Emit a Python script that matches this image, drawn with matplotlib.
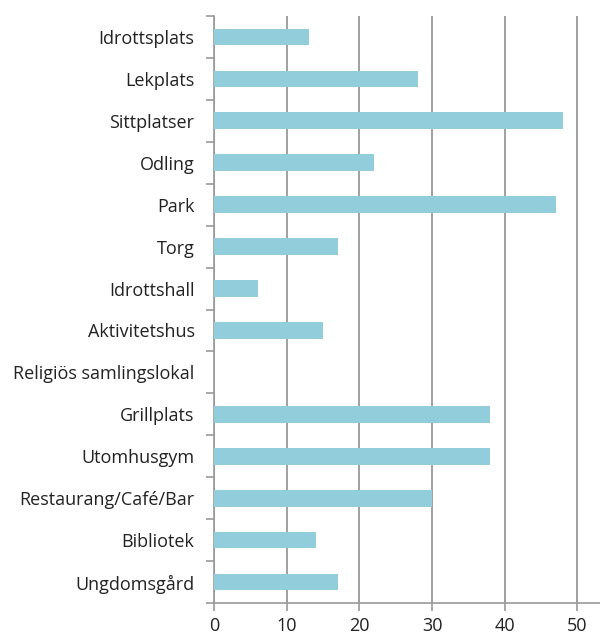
import matplotlib.pyplot as plt
import numpy as np

# data, top to bottom
categories = ["Idrottsplats", "Lekplats", "Sittplatser", "Odling", "Park", "Torg",
              "Idrottshall", "Aktivitetshus", "Religiös samlingslokal", "Grillplats",
              "Utomhusgym", "Restaurang/Café/Bar", "Bibliotek", "Ungdomsgård"]
values = [13, 28, 48, 22, 47, 17, 6, 15, 0, 38, 38, 30, 14, 17]
xticks = [0, 10, 20, 30, 40, 50]

plt.rcParams['font.family'] = ['Open Sans', 'DejaVu Sans']

fig = plt.figure(figsize=(6, 6.37), dpi=100)
ax = fig.add_axes([214 / 600, 1 - 603 / 637, 386 / 600, 587 / 637])

y = np.arange(len(categories))
ax.barh(y, values, height=0.4, color="#92CDDC", zorder=3)

ax.set_ylim(len(categories) - 0.5, -0.5)
ax.set_xlim(0, 53.1)

ax.set_yticks(y)
ax.set_yticklabels(categories, fontsize=13, color="#222222")
ax.set_yticks(np.arange(-0.5, len(categories), 1), minor=True)
ax.tick_params(axis="y", which="major", length=0, pad=14)
ax.tick_params(axis="y", which="minor", length=6, color="#999999", width=1.2)

ax.set_xticks(xticks)
ax.set_xticklabels([str(t) for t in xticks], fontsize=13, color="#222222")
ax.tick_params(axis="x", length=6, color="#999999", width=1.2, pad=4)

ax.grid(axis="x", color="#999999", linewidth=1.3, zorder=0)
for s in ["top", "right"]:
    ax.spines[s].set_visible(False)
for s in ["left", "bottom"]:
    ax.spines[s].set_color("#999999")
    ax.spines[s].set_linewidth(1.2)

fig.savefig("out.png", dpi=100)
